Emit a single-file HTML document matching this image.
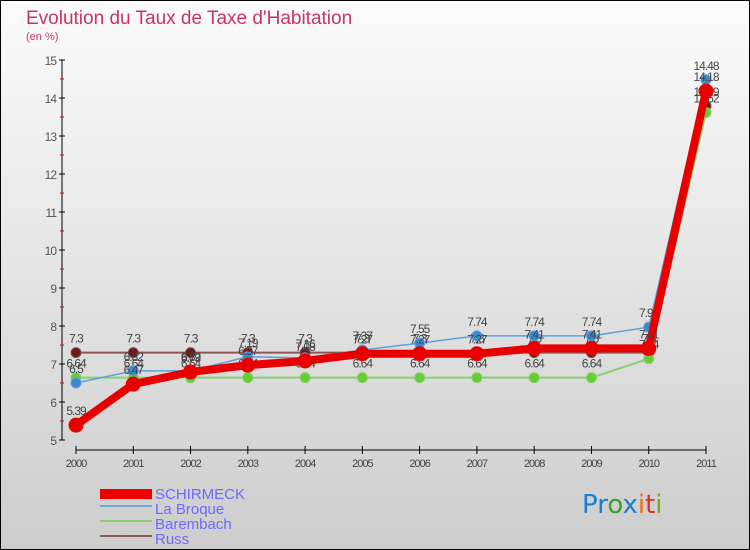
<!DOCTYPE html>
<html><head><meta charset="utf-8"><style>
body{margin:0}
#c{width:750px;height:550px;position:relative;overflow:hidden;font-family:"Liberation Sans",sans-serif}
</style></head><body>
<div id="c">
<svg id="s" width="750" height="550" xmlns="http://www.w3.org/2000/svg">
<defs><linearGradient id="bg" x1="0" y1="0" x2="0" y2="1"><stop offset="0" stop-color="#fbfbfb"/><stop offset="1" stop-color="#cdcdcd"/></linearGradient></defs>
<rect x="0.5" y="0.5" width="749" height="549" fill="url(#bg)" stroke="#000"/>
<text x="26" y="24" font-size="19" fill="#c8336a">Evolution du Taux de Taxe d'Habitation</text>
<text x="26" y="40" font-size="11" fill="#c8336a">(en %)</text>
<g id="axes"></g><g id="series"></g>
<g>
<rect x="100" y="489" width="52" height="10" fill="#e00"/>
<text x="155" y="499" font-size="15" fill="#6a6aff">SCHIRMECK</text>
<rect x="100" y="505" width="52" height="2" fill="#6aa8d8"/>
<text x="155" y="514" font-size="15" fill="#6a6aff">La Broque</text>
<rect x="100" y="520" width="52" height="2" fill="#88d070"/>
<text x="155" y="529" font-size="15" fill="#6a6aff">Barembach</text>
<rect x="100" y="535" width="52" height="2" fill="#8a5555"/>
<text x="155" y="544" font-size="15" fill="#6a6aff">Russ</text>
</g>
<text x="582" y="513" font-size="26" font-family="DejaVu Sans"><tspan fill="#1a7fd0">Pr</tspan><tspan fill="#3aa030">o</tspan><tspan fill="#1a7fd0">x</tspan><tspan fill="#f07010">i</tspan><tspan fill="#e03020">t</tspan><tspan fill="#70b020">i</tspan></text>
</svg>
</div>
<script>
const years=["2000","2001","2002","2003","2004","2005","2006","2007","2008","2009","2010","2011"];
const schirmeck=[5.39,6.47,6.79,6.97,7.08,7.27,7.27,7.27,7.41,7.41,7.41,14.18];
const laBroque=[6.5,6.82,6.82,7.19,7.16,7.37,7.55,7.74,7.74,7.74,7.97,14.48];
const barembach=[6.64,6.64,6.64,6.64,6.64,6.64,6.64,6.64,6.64,6.64,7.14,13.62];
const russ=[7.3,7.3,7.3,7.3,7.3,7.3,7.3,7.3,7.3,7.3,7.3,13.79];
const yTicks=[5,6,7,8,9,10,11,12,13,14,15];
const NS="http://www.w3.org/2000/svg";
const x=i=>76+i*(630/11);
const y=v=>440-(v-5)*38;
function mk(t,a,p){const e=document.createElementNS(NS,t);for(const k in a)e.setAttribute(k,a[k]);p.appendChild(e);return e;}
const ax=document.getElementById('axes');
let e=mk('line',{x1:62,y1:y(15),x2:62,y2:y(5),stroke:'#000'},ax);


e=mk('line',{x1:76,y1:450,x2:706,y2:450,stroke:'#000'},ax);


yTicks.forEach(v=>{
 mk('line',{x1:59,x2:65,y1:y(v),y2:y(v),stroke:'#000'},ax);
 if(v<15)mk('line',{x1:60,x2:64,y1:y(v+0.5),y2:y(v+0.5),stroke:'#d00'},ax);
 const t=mk('text',{x:56,y:y(v)+5,'font-size':12,fill:'#555','text-anchor':'end','letter-spacing':'-1'},ax);t.textContent=v;
 
 
});
years.forEach((yr,i)=>{
 mk('line',{x1:x(i),x2:x(i),y1:446,y2:454,stroke:'#000'},ax);
 const t=mk('text',{x:x(i),y:467,'font-size':11,fill:'#444','text-anchor':'middle','letter-spacing':'-1'},ax);t.textContent=yr;
 
 
});
const sg=document.getElementById('series');
function draw(data,name,color,w,dot,dotFill,labOff){
 const g=mk('g',{},sg);
 
 
 mk('polyline',{points:data.map((v,i)=>x(i)+','+y(v)).join(' '),fill:'none',stroke:color,'stroke-width':w,'stroke-linejoin':'round'},g);
 data.forEach((v,i)=>{
  const c=mk('circle',{cx:x(i),cy:y(v),r:dot,fill:dotFill,stroke:color,'stroke-width':1},g);
  
  
  const t=mk('text',{x:x(i),y:y(v)-labOff,'font-size':12,fill:'#444','text-anchor':'middle','letter-spacing':'-1'},g);
  t.textContent=String(v).replace('.',',').replace(',','.');
 });
}
draw(russ,'russ','#8a5555',2,5,'#6b1a1a',10);
draw(barembach,'barembach','#88d070',2,5,'#66cc33',10);
draw(laBroque,'la-broque','#5fa0d8',1.5,5,'#3a8ad0',10);
draw(schirmeck,'schirmeck','#e80000',8,7,'#e80000',10);
</script>
</body></html>
